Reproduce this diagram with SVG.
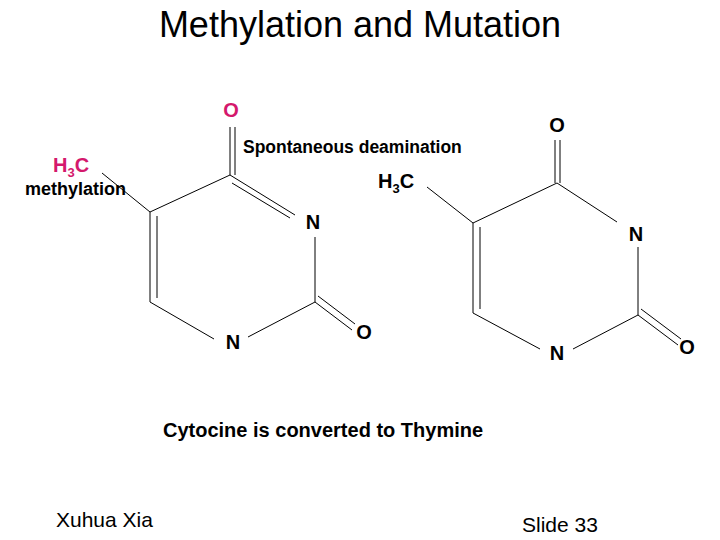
<svg xmlns="http://www.w3.org/2000/svg" width="720" height="540" viewBox="0 0 720 540">
<style>
.t{font-family:"Liberation Sans",Arial,sans-serif;font-weight:bold;fill:#000}
.m{fill:#d4186c}
.b{stroke:#000;stroke-width:1;fill:none}
</style>
<rect width="720" height="540" fill="#fff"/>
<text x="360" y="37" text-anchor="middle" font-family="Liberation Sans,Arial,sans-serif" font-size="36">Methylation and Mutation</text>
<g id="connectors">
<path class="b" d="M230,127V175M235,127V175M230,175L295,215M232,183L290,218M230,175L150,212M150,212V302M157,216V298M150,302L214,339M248,337L315,302M315,237V302M315,302L352,330M318,296L355,324M150,212L102,173"/>
<path class="b" d="M555,140V183M560,140V183M557,183L617,222M557,183L473,223M473,223V313M480,227V309M473,313L540,349M573,349L638,315M638,247V315M638,315L678,345M641,309L681,339M473,223L427,187"/>
</g>
<g id="left-molecule">
<text class="t m" x="231" y="117" font-size="20" text-anchor="middle">O</text>
<text class="t m" x="53" y="172" font-size="20">H<tspan font-size="13" dy="5">3</tspan><tspan dy="-5">C</tspan></text>
<text class="t" x="25" y="195" font-size="18">methylation</text>
<text class="t" x="313" y="229" font-size="20" text-anchor="middle">N</text>
<text class="t" x="233" y="349" font-size="20" text-anchor="middle">N</text>
<text class="t" x="364" y="339" font-size="20" text-anchor="middle">O</text>
</g>
<g id="label-deamination"><text class="t" x="243" y="153" font-size="17.5">Spontaneous deamination</text></g>
<g id="right-molecule">
<text class="t" x="557" y="132" font-size="20" text-anchor="middle">O</text>
<text class="t" x="378" y="188" font-size="20">H<tspan font-size="13" dy="5">3</tspan><tspan dy="-5">C</tspan></text>
<text class="t" x="636" y="241" font-size="20" text-anchor="middle">N</text>
<text class="t" x="557" y="360" font-size="20" text-anchor="middle">N</text>
<text class="t" x="687" y="354" font-size="20" text-anchor="middle">O</text>
</g>
<g id="caption"><text class="t" x="163" y="437" font-size="20">Cytocine is converted to Thymine</text></g>
<text x="56" y="527" font-family="Liberation Sans,Arial,sans-serif" font-size="21">Xuhua Xia</text>
<text x="522" y="532" font-family="Liberation Sans,Arial,sans-serif" font-size="21">Slide 33</text>
</svg>
